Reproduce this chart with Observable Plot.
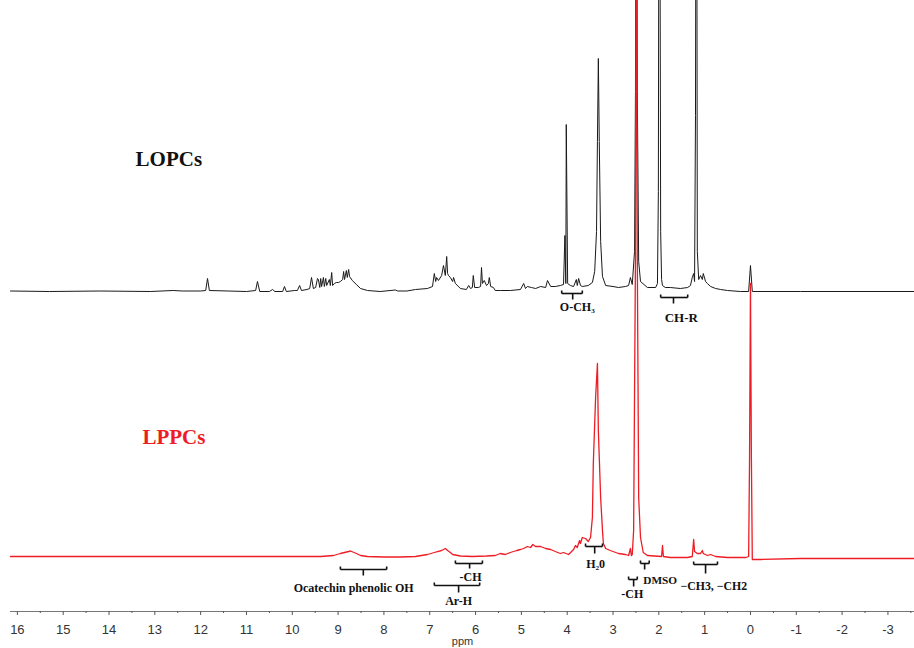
<!DOCTYPE html>
<html><head><meta charset="utf-8">
<script src="https://cdn.jsdelivr.net/npm/d3@7"></script>
<script src="https://cdn.jsdelivr.net/npm/@observablehq/plot@0.6"></script>
<style>body{margin:0;background:#fff}#chart svg{display:block}</style>
</head><body><div id="chart"></div>
<script>
// LOPCs spectrum (black): chemical shift (ppm) and intensity above its baseline
const lopcsPpm = [16.15,15.3,14.2,13.1,12.6,12.4,12.0,11.89,11.85,11.81,11.4,11.0,10.80,10.76,10.71,10.5,10.43,10.38,10.21,10.17,10.13,9.95,9.89,9.84,9.80,9.68,9.62,9.58,9.54,9.49,9.45,9.43,9.40,9.38,9.36,9.32,9.30,9.27,9.25,9.19,9.17,9.14,9.12,9.08,9.04,8.99,8.95,8.90,8.88,8.86,8.82,8.80,8.77,8.75,8.69,8.60,8.51,8.36,8.08,7.75,7.70,7.5,7.31,7.05,6.94,6.90,6.87,6.85,6.81,6.74,6.70,6.66,6.63,6.61,6.59,6.55,6.50,6.48,6.44,6.33,6.20,6.15,6.11,6.07,6.05,6.02,5.94,5.89,5.87,5.85,5.81,5.76,5.72,5.70,5.67,5.61,5.57,5.46,5.24,5.02,4.95,4.91,4.87,4.78,4.69,4.58,4.47,4.43,4.36,4.26,4.15,4.08,4.05,4.03,4.02,3.99,3.93,3.86,3.80,3.78,3.75,3.71,3.67,3.54,3.45,3.40,3.36,3.34,3.32,3.30,3.27,3.23,3.16,3.0,2.88,2.73,2.66,2.62,2.58,2.53,2.51,2.49,2.47,2.44,2.40,2.25,2.07,2.03,2.01,1.99,1.96,1.94,1.92,1.86,1.75,1.53,1.37,1.31,1.27,1.24,1.22,1.20,1.18,1.16,1.13,1.09,1.05,1.03,0.98,0.94,0.87,0.76,0.65,0.50,0.22,0.04,0.00,-0.04,-1.09,-3.58];
const lopcsInt = [0.5,0,0.5,0,1,0.5,0.5,1,13,1,0.5,0,1,10,0,0,2,0,0,5,0,1,1,6,1,2,3,14,3,4,13,12,4,13,5,14,5,13,6,12,6,19,6,8,9,9,10,12,20,12,21,14,22,15,11,7,3,1,0,1.5,0.5,0.5,2,3,5,18,10,14,11,16,26,16,35,18,16,14,10,14,8,3,2,6,3,4,16,4,4,5,24,8,11,6,8,14,5,4,1,1,1,2,8,3,5,4,3,5,4,11,5,5,6,7,56,8,167,8,6,5,12,6,13,6,5,6,9,20,60,150,233,150,50,15,6,5,4,5,6,14,7,40,200,700,200,30,10,4,4,8,100,700,60,12,6,4,4,3,4,6,14,18,10,176,700,40,12,16,12,18,10,8,5,3,2,1,0,0,26,0,0,0];

// LPPCs spectrum (red)
const lppcsPpm = [16.15,14,12,10,9.38,9.1,8.95,8.77,8.73,8.60,8.51,8.36,8.0,7.64,7.31,7.05,6.90,6.74,6.66,6.61,6.55,6.50,6.33,6.07,5.76,5.57,5.46,5.35,5.24,5.1,5.02,4.95,4.87,4.80,4.75,4.69,4.58,4.47,4.36,4.26,4.15,4.08,3.97,3.86,3.82,3.78,3.73,3.71,3.67,3.60,3.54,3.49,3.45,3.43,3.38,3.34,3.32,3.27,3.23,3.21,3.16,3.06,2.88,2.73,2.66,2.62,2.60,2.58,2.55,2.51,2.49,2.47,2.44,2.40,2.34,2.25,1.94,1.92,1.90,1.75,1.37,1.27,1.24,1.22,1.16,1.09,1.05,1.03,0.94,0.87,0.76,0.5,0.1,0.04,0.02,0.00,-0.02,-0.04,-0.22,-1.09,-3.58];
const lppcsInt = [1,1,1,1,1,2,4,6,6.5,4,2,1,0.5,0.5,1,3,5,7,9,7,5,3,1.5,1,1.5,2,4,3,5,7,8,9,11,10,13,11,11,9,8,6,4,5,3,8,12,10,17,14,20,19,16,20,40,94,160,194,127,60,27,14,9,7,4,3,2,9,2,3,27,300,700,300,60,20,5,2,1,12,1,0,0,1,18,6,4,4,7,4,2,3,1,0,0,1,100,274,100,-2,-2,-1,-1];

const offset = 266; // vertical stacking of the LOPCs trace

const majorTicks = [16,15,14,13,12,11,10,9,8,7,6,5,4,3,2,1,0,-1,-2,-3];
const minorTicks = [15.5,14.5,13.5,12.5,11.5,10.5,9.5,8.5,7.5,6.5,5.5,4.5,3.5,2.5,1.5,0.5,-0.5,-1.5,-2.5,-3.5];

// peak assignments
const annLabel = ["O-CH\u2083","CH-R","Ocatechin phenolic OH","-CH","Ar-H","H\u20820","-CH","DMSO","\u2212CH3, \u2212CH2"];
const annFrom  = [4.12,1.96,8.95,6.44,6.90,3.60,2.66,2.40,1.24];
const annTo    = [3.67,1.37,7.94,5.85,5.91,3.23,2.47,2.21,0.72];
const annMid   = [3.88,1.68,8.45,6.13,6.37,3.40,2.55,2.31,0.98];
const annBar   = [264,260,-12,-6,-28,11,-22,-6,-7];
const annStem  = [258,254,-18,-11,-35,4,-29,-12,-16];
const annTextX = [3.78,1.51,8.66,6.11,6.37,3.38,2.58,2.34,0.80];
const annTextY = [247,236,-34,-23,-47,-10,-40,-26,-32];
const annLeft  = [false,false,false,false,false,false,false,true,false];
const annSize  = [12,13,12,12,12,12,12,11.3,11.8];

const lopcs = lopcsPpm.map((p, i) => ({ppm: p, v: lopcsInt[i] + offset}));
const lppcs = lppcsPpm.map((p, i) => ({ppm: p, v: lppcsInt[i]}));
const ann = annLabel.map((t, i) => ({t, a: annFrom[i], b: annTo[i], m: annMid[i], bar: annBar[i], stem: annStem[i], tx: annTextX[i], ty: annTextY[i], left: annLeft[i], size: annSize[i]}));

const serif = "'Liberation Serif','Times New Roman',serif";

const chart = Plot.plot({
  width: 914,
  height: 648,
  marginLeft: 10,
  marginRight: 0,
  marginTop: 0,
  marginBottom: 37,
  style: {fontFamily: "'Liberation Sans',Arial,sans-serif", background: "#fff"},
  x: {domain: [16.15, -3.58], label: null},
  y: {domain: [-54, 557], axis: null},
  marks: [
    Plot.ruleY([-54], {stroke: "#777", strokeWidth: 1.2}),
    Plot.axisX({ticks: minorTicks, tickSize: 2, tickFormat: () => "", stroke: "#555"}),
    Plot.axisX({ticks: majorTicks, tickSize: 4, tickPadding: 9, tickFormat: d => String(d), fontSize: 13, fill: "#333", stroke: "#555", label: null}),
    Plot.text(["ppm"], {frameAnchor: "bottom", dy: 33, fontSize: 11, fill: "#333"}),
    Plot.line(lopcs, {x: "ppm", y: "v", stroke: "#1a1a1a", strokeWidth: 1, clip: true}),
    Plot.line(lppcs, {x: "ppm", y: "v", stroke: "#ee1c24", strokeWidth: 1.3, clip: true}),
    // brackets
    Plot.link(ann, {x1: "a", x2: "b", y1: "bar", y2: "bar", stroke: "#111", strokeWidth: 1.6}),
    Plot.link(ann, {x1: "a", x2: "a", y1: "bar", y2: d => d.bar + 3, stroke: "#111", strokeWidth: 1.6}),
    Plot.link(ann, {x1: "b", x2: "b", y1: "bar", y2: d => d.bar + 3, stroke: "#111", strokeWidth: 1.6}),
    Plot.link(ann, {x1: "m", x2: "m", y1: "bar", y2: "stem", stroke: "#111", strokeWidth: 1.6}),
    Plot.text(ann.filter(d => !d.left), {x: "tx", y: "ty", text: "t", textAnchor: "middle", lineAnchor: "bottom", fontSize: "size", fontWeight: "bold", fontFamily: serif, fill: "#111"}),
    Plot.text(ann.filter(d => d.left), {x: "tx", y: "ty", text: "t", textAnchor: "start", lineAnchor: "bottom", fontSize: "size", fontWeight: "bold", fontFamily: serif, fill: "#111"}),
    // sample labels
    Plot.text(["LOPCs"], {x: 13.42, y: 392, textAnchor: "start", lineAnchor: "bottom", fontSize: 21, fontWeight: "bold", fontFamily: serif, fill: "#111"}),
    Plot.text(["LPPCs"], {x: 13.27, y: 114, textAnchor: "start", lineAnchor: "bottom", fontSize: 21, fontWeight: "bold", fontFamily: serif, fill: "#ee1c24"})
  ]
});
document.getElementById("chart").appendChild(chart);
</script>
</body></html>
